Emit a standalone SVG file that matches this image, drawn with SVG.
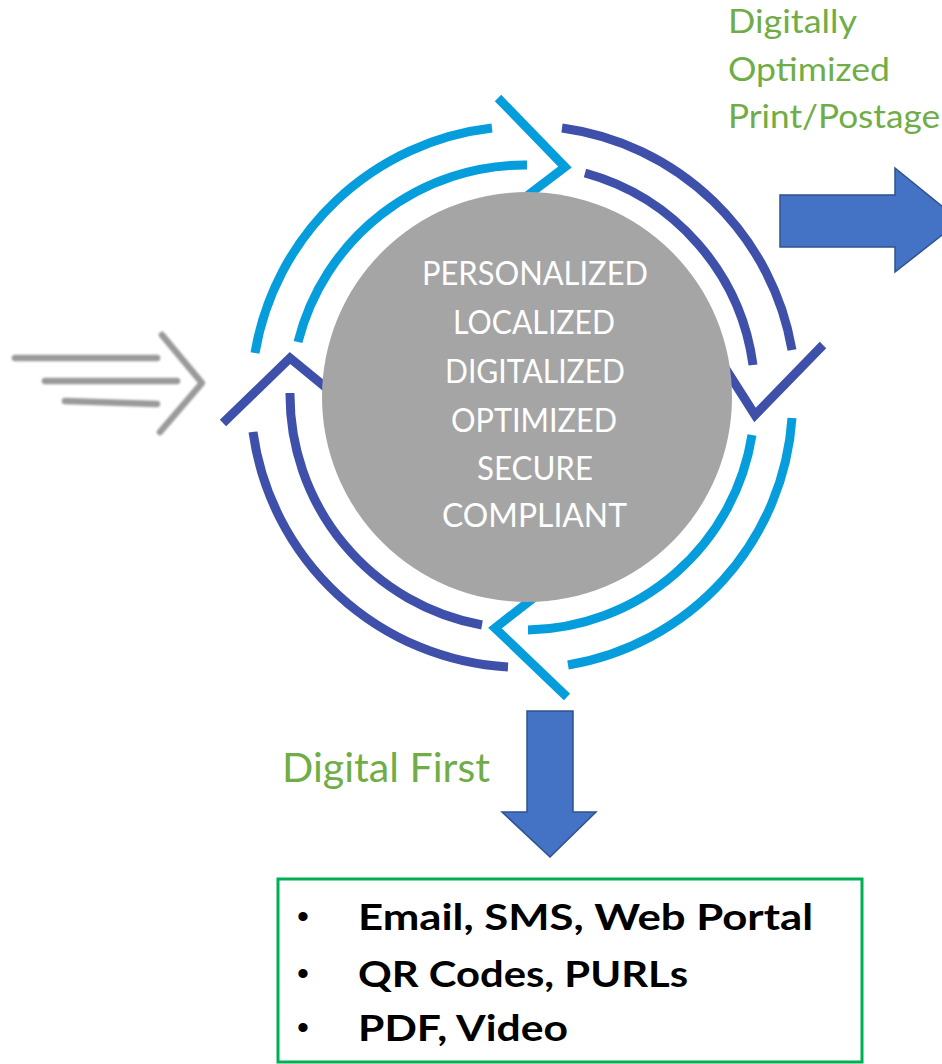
<svg xmlns="http://www.w3.org/2000/svg" width="942" height="1064" viewBox="0 0 942 1064">
  <style>
    .ring { fill: none; stroke-width: 9; stroke-linecap: butt; stroke-linejoin: miter; }
    .light { stroke: #069DDC; }
    .dark { stroke: #3E50A9; }
    .core-text { font-family: Lato, "Open Sans", "Liberation Sans", sans-serif; font-size: 33px; fill: #FFFFFF; }
    .green-label { font-family: Lato, "Open Sans", "Liberation Sans", sans-serif; fill: #70AD47; }
    .block-arrow { fill: #4472C4; stroke: #2F528F; stroke-width: 1.5; }
    .item { font-family: Lato, "Open Sans", "Liberation Sans", sans-serif; font-weight: bold; font-size: 37px; fill: #000000; }
    .bullet { font-family: "Liberation Sans", Arial, sans-serif; font-size: 34px; fill: #000000; }
    .intake { fill: none; stroke: #9A9A9A; stroke-width: 6.5; stroke-linecap: round; stroke-linejoin: round; }
  </style>
  <defs>
    <filter id="soft" x="-10%" y="-20%" width="120%" height="140%">
      <feGaussianBlur stdDeviation="0.9"/>
    </filter>
  </defs>

  <rect width="942" height="1064" fill="#FFFFFF"/>

  <!-- incoming stream on the left -->
  <g id="intake" filter="url(#soft)">
    <path class="intake" d="M15 358 H157"/>
    <path class="intake" d="M45 381 H177"/>
    <path class="intake" d="M65 401 L157 404"/>
    <path class="intake" d="M162 335 L202 383 L160 432"/>
  </g>

  <!-- circular process ring: four double-arc arrows -->
  <g id="cycle">
    <g id="arc-top-left" class="ring light">
      <path d="M255 353 A272 272 0 0 1 492 128"/>
      <path d="M298 342 A234 234 0 0 1 527 165"/>
      <path d="M498 98 L565 167 L515 205"/>
    </g>
    <g id="arc-top-right" class="ring dark">
      <path d="M562 128 A270 270 0 0 1 792 350"/>
      <path d="M585 173 A231 231 0 0 1 753 365"/>
      <path d="M823 345 L755 415 L720 360"/>
    </g>
    <g id="arc-bottom-right" class="ring light">
      <path d="M792 418 A269 269 0 0 1 568 665"/>
      <path d="M752 435 A231 231 0 0 1 528 630"/>
      <path d="M567 697 L495 628 L545 589"/>
    </g>
    <g id="arc-bottom-left" class="ring dark">
      <path d="M508 667 A273 273 0 0 1 253 432"/>
      <path d="M482 625 A234 234 0 0 1 290 393"/>
      <path d="M223 423 L290 358 L335 395"/>
    </g>
  </g>

  <!-- central hub -->
  <g id="core">
    <circle cx="527" cy="397" r="205" fill="#A5A5A5"/>
    <text class="core-text" x="422" y="285" textLength="226" lengthAdjust="spacingAndGlyphs">PERSONALIZED</text>
    <text class="core-text" x="453" y="334" textLength="162" lengthAdjust="spacingAndGlyphs">LOCALIZED</text>
    <text class="core-text" x="445" y="383" textLength="180" lengthAdjust="spacingAndGlyphs">DIGITALIZED</text>
    <text class="core-text" x="451" y="432" textLength="166" lengthAdjust="spacingAndGlyphs">OPTIMIZED</text>
    <text class="core-text" x="477" y="480" textLength="116" lengthAdjust="spacingAndGlyphs">SECURE</text>
    <text class="core-text" x="442" y="527" textLength="185" lengthAdjust="spacingAndGlyphs">COMPLIANT</text>
  </g>

  <!-- output arrows -->
  <g id="connectors">
    <path id="to-print" class="block-arrow" d="M780 195 H895 V168 L960 221 L895 272 V247 H780 Z"/>
    <path id="to-digital" class="block-arrow" d="M527 711 H573 V812 H596 L550 857 L502 812 H527 Z"/>
  </g>

  <g id="label-print">
    <text class="green-label" font-size="33" x="728" y="33" textLength="129" lengthAdjust="spacingAndGlyphs">Digitally</text>
    <text class="green-label" font-size="33" x="728" y="81" textLength="162" lengthAdjust="spacingAndGlyphs">Optimized</text>
    <text class="green-label" font-size="33" x="728" y="128" textLength="212" lengthAdjust="spacingAndGlyphs">Print/Postage</text>
  </g>

  <g id="label-digital">
    <text class="green-label" font-size="41" x="282" y="782" textLength="208" lengthAdjust="spacingAndGlyphs">Digital First</text>
  </g>

  <!-- digital channels -->
  <g id="channels">
    <rect x="278" y="879" width="584" height="183" fill="#FFFFFF" stroke="#00B050" stroke-width="3"/>
    <text class="bullet" x="297" y="928">•</text>
    <text class="item" x="358" y="930" textLength="455" lengthAdjust="spacingAndGlyphs">Email, SMS, Web Portal</text>
    <text class="bullet" x="297" y="985">•</text>
    <text class="item" x="358" y="987" textLength="330" lengthAdjust="spacingAndGlyphs">QR Codes, PURLs</text>
    <text class="bullet" x="297" y="1039">•</text>
    <text class="item" x="358" y="1041" textLength="210" lengthAdjust="spacingAndGlyphs">PDF, Video</text>
  </g>
</svg>
